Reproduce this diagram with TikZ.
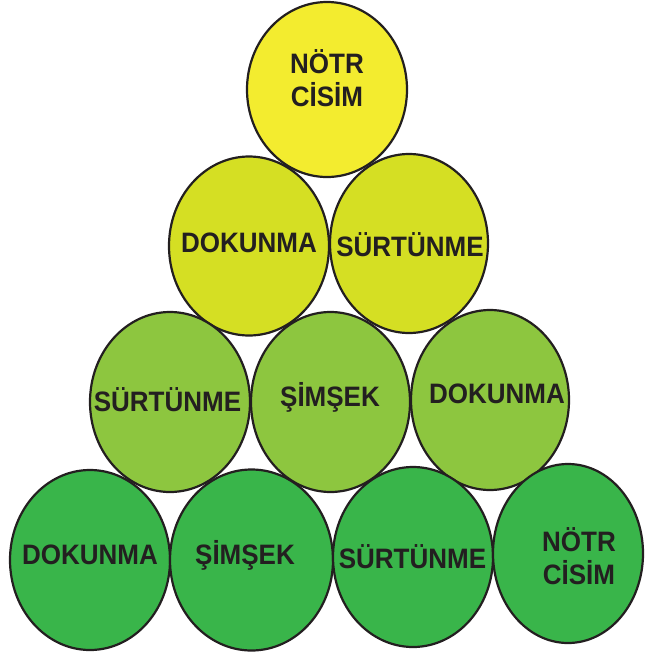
\documentclass[tikz,border=0pt]{standalone}
\usepackage{fontspec}
\usepackage{graphicx}
\setmainfont{Liberation Sans}
\usetikzlibrary{shapes.geometric}
\definecolor{cA}{HTML}{F3EC2F}
\definecolor{cB}{HTML}{D5DF23}
\definecolor{cC}{HTML}{8DC63F}
\definecolor{cD}{HTML}{39B54A}
\definecolor{ink}{HTML}{231F20}
\newcommand\tallword[1]{\scalebox{1}[1.08]{#1}}
\tikzset{
  ball/.style={ellipse, draw=ink, line width=2.2pt, inner sep=0pt, minimum width=160pt, minimum height=179pt},
  word/.style={text=ink, font=\fontsize{26}{33}\selectfont\bfseries, align=center, inner sep=0pt}
}
\begin{document}
\begin{tikzpicture}[x=1pt,y=-1pt]
\useasboundingbox (0,0) rectangle (645,659);
% top
\node[ball, fill=cA, minimum height=175pt] (b1) at (327,89.5) {};
\node[word] (t1) at (327,78) {\tallword{NÖTR}\\\tallword{CİSİM}};
% row 2
\node[ball, fill=cB] (b2a) at (249,246) {};
\node[ball, fill=cB, minimum width=158pt] (b2b) at (409,243.5) {};
\node[word] (t2a) at (249,243) {\tallword{DOKUNMA}};
\node[word] (t2b) at (410,245) {\tallword{SÜRTÜNME}};
% row 3
\node[ball, fill=cC, minimum height=180pt] (b3a) at (170,402) {};
\node[ball, fill=cC, minimum height=180pt, minimum width=159pt] (b3b) at (330.5,402) {};
\node[ball, fill=cC, minimum height=180pt, minimum width=158pt] (b3c) at (490,400) {};
\node[word] (t3a) at (167.5,400) {\tallword{SÜRTÜNME}};
\node[word] (t3b) at (330,397) {\tallword{ŞİMŞEK}};
\node[word] (t3c) at (497,394) {\tallword{DOKUNMA}};
% row 4
\node[ball, fill=cD, minimum height=180pt] (b4a) at (90,560) {};
\node[ball, fill=cD, minimum height=181pt, minimum width=163pt] (b4b) at (251.5,560) {};
\node[ball, fill=cD, minimum height=180pt] (b4c) at (413,557) {};
\node[ball, fill=cD, minimum height=179pt, minimum width=150pt] (b4d) at (568,553.5) {};
\node[word] (t4a) at (90,555) {\tallword{DOKUNMA}};
\node[word] (t4b) at (245,555) {\tallword{ŞİMŞEK}};
\node[word] (t4c) at (412.5,557) {\tallword{SÜRTÜNME}};
\node[word] (t4d) at (579,556) {\tallword{NÖTR}\\\tallword{CİSİM}};
\end{tikzpicture}
\end{document}
